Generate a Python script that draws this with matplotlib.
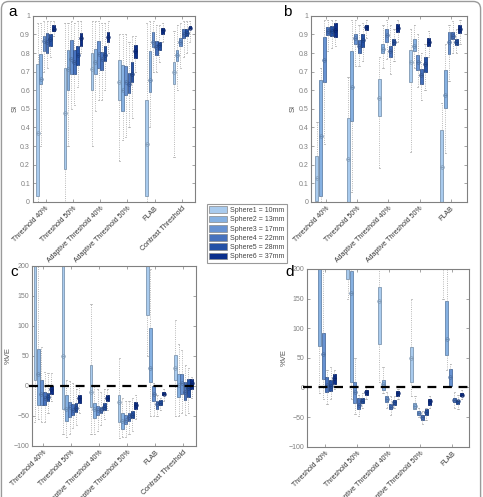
import numpy as np
import matplotlib
matplotlib.use("Agg")
import matplotlib.pyplot as plt
from matplotlib.patches import Patch, FancyBboxPatch

plt.rcParams["font.family"] = ["Liberation Sans", "DejaVu Sans"]

methods_6 = ["Threshold 40%", "Threshold 50%", "Adaptive Threshold 40%",
             "Adaptive Threshold 50%", "FLAB", "Contrast Threshold"]
methods_5 = methods_6[:5]
sphere_labels = ["Sphere1 = 10mm", "Sphere2 = 13mm", "Sphere3 = 17mm",
                 "Sphere4 = 22mm", "Sphere5 = 28mm", "Sphere6 = 37mm"]
sphere_colors = ["#a9cbee", "#86b1e2", "#6792d2", "#4671bd", "#2451a6", "#0b2f8c"]

# panel a: SI, threshold sources
a_q1 = [[0.03, 0.635, 0.81, 0.80, 0.84, 0.917],
        [0.176, 0.60, 0.689, 0.689, 0.734, 0.84],
        [0.60, 0.689, 0.72, 0.707, 0.755, 0.86],
        [0.545, 0.486, 0.576, 0.586, 0.644, 0.773],
        [0.029, 0.59, 0.833, 0.788, 0.815, 0.905],
        [0.635, 0.76, 0.84, 0.88, 0.892, 0.928]]
a_med = [[0.37, 0.66, 0.863, 0.86, 0.875, 0.93],
         [0.48, 0.716, 0.77, 0.75, 0.788, 0.88],
         [0.716, 0.75, 0.797, 0.77, 0.788, 0.887],
         [0.644, 0.60, 0.644, 0.635, 0.69, 0.81],
         [0.31, 0.653, 0.86, 0.833, 0.842, 0.923],
         [0.698, 0.79, 0.86, 0.905, 0.91, 0.937]]
a_q3 = [[0.74, 0.793, 0.892, 0.91, 0.905, 0.95],
        [0.721, 0.818, 0.869, 0.815, 0.836, 0.91],
        [0.80, 0.824, 0.863, 0.806, 0.838, 0.914],
        [0.764, 0.737, 0.73, 0.694, 0.752, 0.845],
        [0.545, 0.81, 0.914, 0.863, 0.86, 0.935],
        [0.752, 0.818, 0.88, 0.928, 0.928, 0.946]]
a_lo = [[0.0, 0.30, 0.70, 0.72, 0.78, 0.89],
        [0.0, 0.30, 0.50, 0.52, 0.62, 0.80],
        [0.30, 0.49, 0.55, 0.55, 0.60, 0.80],
        [0.22, 0.33, 0.35, 0.40, 0.45, 0.70],
        [0.0, 0.40, 0.70, 0.70, 0.75, 0.86],
        [0.24, 0.60, 0.72, 0.78, 0.80, 0.86]]
a_hi = [[0.96, 0.96, 0.97, 0.97, 0.97, 0.97],
        [0.96, 0.96, 0.97, 0.96, 0.97, 0.97],
        [0.97, 0.97, 0.97, 0.96, 0.96, 0.97],
        [0.90, 0.90, 0.90, 0.86, 0.89, 0.89],
        [0.96, 0.97, 0.97, 0.95, 0.95, 0.96],
        [0.92, 0.95, 0.96, 0.97, 0.97, 0.97]]

# panel b: SI
b_q1 = [[0.005, 0.029, 0.647, 0.896, 0.892, 0.887],
        [0.0, 0.435, 0.85, 0.80, 0.833, 0.926],
        [0.464, 0.80, 0.86, 0.779, 0.842, 0.914],
        [0.647, 0.81, 0.707, 0.635, 0.698, 0.84],
        [0.0, 0.505, 0.797, 0.874, 0.845, 0.91]]
b_med = [[0.128, 0.356, 0.764, 0.919, 0.919, 0.923],
         [0.23, 0.617, 0.88, 0.84, 0.87, 0.94],
         [0.557, 0.82, 0.896, 0.81, 0.86, 0.935],
         [0.75, 0.84, 0.75, 0.68, 0.743, 0.86],
         [0.189, 0.572, 0.86, 0.892, 0.86, 0.93]]
b_q3 = [[0.245, 0.656, 0.885, 0.94, 0.946, 0.96],
        [0.45, 0.813, 0.90, 0.87, 0.90, 0.953],
        [0.658, 0.85, 0.928, 0.838, 0.878, 0.955],
        [0.818, 0.874, 0.79, 0.712, 0.779, 0.88],
        [0.385, 0.707, 0.914, 0.914, 0.874, 0.95]]
b_lo = [[0.0, 0.0, 0.31, 0.81, 0.83, 0.84],
        [0.0, 0.05, 0.73, 0.73, 0.76, 0.88],
        [0.18, 0.72, 0.77, 0.69, 0.76, 0.86],
        [0.27, 0.72, 0.62, 0.55, 0.60, 0.78],
        [0.0, 0.26, 0.65, 0.80, 0.80, 0.85]]
b_hi = [[0.43, 0.72, 0.98, 0.98, 0.98, 0.98],
        [0.67, 0.98, 0.98, 0.95, 0.96, 0.98],
        [0.78, 0.95, 0.98, 0.95, 0.93, 0.98],
        [0.93, 0.95, 0.90, 0.80, 0.85, 0.92],
        [0.53, 0.85, 0.95, 0.97, 0.93, 0.98]]

# panel c: %VE
c_q1 = [[9, -32, -32, -32, -26, -13],
        [-38, -59, -52, -48, -43, -28],
        [-35, -53, -48, -46, -40, -26],
        [-60, -72, -64, -59, -54, -38],
        [118, 7, -26, -38, -32, -16],
        [9, -18, -13, -23, -18, -6]]
c_med = [[250, 20, -13, -20, -18, -6],
         [49, -38, -35, -40, -37, -21],
         [-10, -38, -40, -40, -35, -21],
         [-27, -59, -57, -52, -48, -32],
         [250, 29, -13, -31, -28, -13],
         [30, 1, 4, -10, -4, 4]]
c_q3 = [[400, 61, 9, -10, -12, 0],
        [400, -16, -27, -31, -29, -16],
        [34, -29, -33, -35, -29, -16],
        [-16, -46, -49, -46, -42, -27],
        [400, 96, 0, -26, -24, -10],
        [51, 20, 19, 6, 12, 12]]
c_lo = [[-60, -55, -60, -60, -45, -25],
        [-80, -85, -80, -70, -65, -45],
        [-80, -80, -75, -65, -55, -40],
        [-87, -85, -85, -80, -75, -55],
        [50, -50, -50, -50, -40, -25],
        [-50, -50, -45, -48, -45, -20]]
c_hi = [[400, 200, 65, 23, 22, 22],
        [400, 10, 8, 5, -5, 0],
        [137, 0, -5, -10, -5, -5],
        [47, -20, -25, -25, -20, -15],
        [400, 195, 5, -15, -20, -5],
        [110, 70, 60, 35, 30, 15]]

# panel d: %VE
d_q1 = [[250, 70, 15, -7, -6, 6],
        [183, 10, -26, -36, -26, -12],
        [73, -4, -25, -37, -29, -14],
        [10, -36, -47, -54, -46, -29],
        [250, 54, 3, -25, -27, -15]]
d_med = [[300, 230, 57, 4, 2, 16],
         [250, 159, -7, -29, -22, -8],
         [145, 6, -20, -33, -25, -9],
         [50, -31, -43, -50, -42, -23],
         [300, 82, 18, -21, -23, -12]]
d_q3 = [[350, 350, 92, 17, 13, 22],
        [350, 196, 10, -18, -18, -4],
        [169, 13, -15, -27, -21, -6],
        [68, -26, -40, -46, -37, -20],
        [350, 146, 31, -18, -21, -10]]
d_lo = [[200, -10, -20, -27, -20, -3],
        [150, -20, -45, -48, -35, -20],
        [10, -10, -35, -47, -35, -20],
        [-15, -35, -50, -62, -55, -35],
        [150, 30, 0, -35, -37, -20]]
d_hi = [[400, 400, 200, 30, 35, 30],
        [400, 400, 50, -12, -10, 0],
        [200, 35, -8, -15, -15, -3],
        [150, -15, -35, -40, -35, -15],
        [400, 400, 40, -8, -12, -5]]

GRAY = "#808080"


def darker(hex_color, f=0.75):
    rgb = np.array(matplotlib.colors.to_rgb(hex_color))
    return tuple(rgb * f)


def draw_panel(ax, q1, med, q3, lo, hi, names, xlim, ylim, yticks, ylabel):
    '''MATLAB-like grouped box plot, 6 spheres per method'''
    step = 0.117
    for g in range(len(names)):
        for s in range(6):
            pos = g + 1 + (s - 2.5) * step
            st = dict(med=med[g][s], q1=q1[g][s], q3=q3[g][s],
                      whislo=lo[g][s], whishi=hi[g][s])
            edge = darker(sphere_colors[s])
            ax.bxp([st], positions=[pos], widths=0.095, patch_artist=True,
                   showfliers=False, capwidths=[0.04],
                   boxprops=dict(facecolor=sphere_colors[s], edgecolor=edge, lw=0.6),
                   whiskerprops=dict(color="#a0a0a0", ls=":", lw=0.6),
                   capprops=dict(color="#a0a0a0", lw=0.5),
                   medianprops=dict(color=edge, lw=0.6),
                   manage_ticks=False)
            ax.plot(pos, med[g][s], "o", mfc="none", mec=edge, ms=2.6, mew=0.5)
    ax.set_xlim(*xlim)
    ax.set_ylim(*ylim)
    ax.set_yticks(yticks)
    ax.set_xticks(range(1, len(names) + 1))
    ax.set_xticklabels(names, rotation=45, ha="right", rotation_mode="anchor",
                       fontsize=5.0, color="#333333")
    ax.tick_params(direction="in", length=2, width=0.5, colors=GRAY,
                   top=True, right=True, labelsize=5.0, pad=2)
    for lab in ax.get_xticklabels():
        lab.set_color("#333333")
    for sp in ax.spines.values():
        sp.set_color(GRAY)
        sp.set_linewidth(0.8)
    ax.set_ylabel(ylabel, fontsize=5.5, color="#555555", labelpad=1)


fig = plt.figure(figsize=(4.83, 4.97), dpi=100)

ax_a = fig.add_axes([0.068, 0.594, 0.335, 0.374])
ax_b = fig.add_axes([0.644, 0.594, 0.323, 0.374])
ax_c = fig.add_axes([0.066, 0.103, 0.340, 0.362])
ax_d = fig.add_axes([0.636, 0.101, 0.334, 0.358])

si_ticks = np.round(np.arange(0, 1.01, 0.1), 1)
ve_ticks = [-100, -50, 0, 50, 100, 150, 200]

draw_panel(ax_a, a_q1, a_med, a_q3, a_lo, a_hi, methods_6, (0.535, 6.465), (0, 1), si_ticks, "SI")
draw_panel(ax_b, b_q1, b_med, b_q3, b_lo, b_hi, methods_5, (0.52, 5.52), (0, 1), si_ticks, "SI")
draw_panel(ax_c, c_q1, c_med, c_q3, c_lo, c_hi, methods_6, (0.6, 6.45), (-100, 200), ve_ticks, "%VE")
draw_panel(ax_d, d_q1, d_med, d_q3, d_lo, d_hi, methods_5, (0.44, 5.51), (-100, 200), ve_ticks, "%VE")

for ax in (ax_a, ax_b):
    ax.set_yticklabels(["0"] + [f"{v:g}" for v in si_ticks[1:-1]] + ["1"])
for ax in (ax_c, ax_d):
    x0, x1 = ax.get_xlim()
    ax.plot([x0 - 0.12, x1 + 0.12], [0, 0], color="k", ls=(0, (4, 3)), lw=1.6,
            zorder=5, clip_on=False)
    ax.set_xlim(x0, x1)

fig.text(8 / 483, 1 - 12 / 497, "a", fontsize=11, va="center", ha="left")
fig.text(283 / 483, 1 - 12 / 497, "b", fontsize=11, va="center", ha="left")
fig.text(10 / 483, 1 - 272 / 497, "c", fontsize=11, va="center", ha="left")
fig.text(285 / 483, 1 - 272 / 497, "d", fontsize=11, va="center", ha="left")

handles = [Patch(facecolor=c, edgecolor="#888888", lw=0.5) for c in sphere_colors]
leg = fig.legend(handles, sphere_labels, loc="upper left",
                 bbox_to_anchor=(207 / 483, 1 - 204 / 497), fontsize=5.0,
                 frameon=True, fancybox=False, handlelength=2.6, handleheight=1.1,
                 handletextpad=0.3, labelspacing=0.22, borderpad=0.35,
                 borderaxespad=0)
leg.get_frame().set_edgecolor(GRAY)
leg.get_frame().set_linewidth(0.8)
for t in leg.get_texts():
    t.set_color("#444444")

border = FancyBboxPatch((0.003, -0.02), 0.992, 1.017, boxstyle="round,pad=0,rounding_size=0.015",
                        transform=fig.transFigure, fill=False, edgecolor="#9a9a9a", lw=1.0)
fig.patches.append(border)

fig.savefig("out.png", dpi=100)
